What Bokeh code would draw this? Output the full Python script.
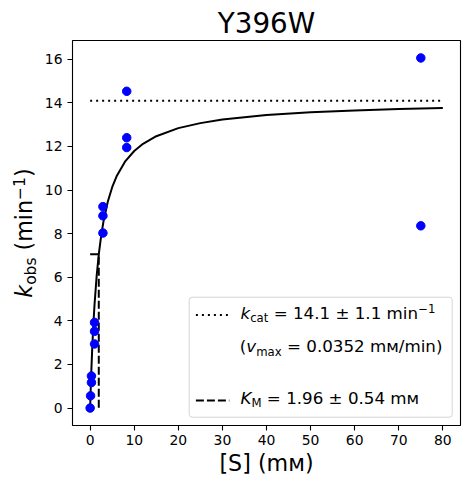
import math
from bokeh.plotting import figure
from bokeh.layouts import row
from bokeh.models import Range1d, FixedTicker, Label, BoxAnnotation
from bokeh.embed import file_html
from bokeh.resources import INLINE

# ---------------- data ----------------
title_text = "Y396W"
x_label_text = "[S] (m\u1d0d)"

s_conc = [0.0, 0.1, 0.3, 0.3, 1.0, 1.0, 1.0, 2.9, 2.9, 2.9, 8.3, 8.3, 8.3, 75.0, 75.0]
k_obs = [0.0, 0.56, 1.17, 1.47, 2.94, 3.52, 3.93, 8.03, 8.82, 9.24, 11.95, 12.40, 14.53, 16.06, 8.36]

fit_s = [0, 0.1, 0.25, 0.5, 0.75, 1.0, 1.5, 2.0, 2.5, 3.0, 4.0, 5.0, 6.0, 8.0,
         10.0, 12.0, 15.0, 20.0, 25.0, 30.0, 40.0, 50.0, 60.0, 70.0, 80.0]
fit_k = [0.0, 0.68, 1.60, 2.87, 3.90, 4.76, 6.11, 7.12, 7.90, 8.53, 9.46, 10.13, 10.63, 11.33,
         11.79, 12.12, 12.47, 12.84, 13.07, 13.24, 13.44, 13.57, 13.65, 13.72, 13.76]

kcat = 14.1
kcat_err = 1.1
vmax = 0.0352
km = 1.96
km_err = 0.54
s_span = [0.0, 80.0]

x_ticks = [0, 10, 20, 30, 40, 50, 60, 70, 80]
y_ticks = [0, 2, 4, 6, 8, 10, 12, 14, 16]

# ---------------- layout ----------------
X0, X1 = -4.0, 84.0
Y0, Y1 = -0.80, 16.86
FONT = "DejaVu Sans"
PAGE_W, PAGE_H = 469, 484
LAB_W = 40
XL, XR, YT, YB = 72, 460, 40, 425   # frame position in page pixels
BASE_OFF = 0.47                      # anchor-to-baseline offset of Label text (em)

p = figure(width=PAGE_W - LAB_W, height=PAGE_H, x_range=Range1d(X0, X1),
           y_range=Range1d(Y0, Y1), output_backend="svg", toolbar_location=None,
           min_border_left=XL - LAB_W, min_border_right=PAGE_W - XR,
           min_border_top=YT, min_border_bottom=PAGE_H - YB)
p.background_fill_color = "white"
p.border_fill_color = "white"
p.outline_line_color = "black"
p.outline_line_width = 1.1
p.grid.visible = False

p.title.text = title_text
p.title.text_font = FONT
p.title.text_font_size = "27.8px"
p.title.text_font_style = "normal"
p.title.text_color = "black"
p.title.align = "center"
p.title.standoff = 2

for ax, ticks in ((p.xaxis, x_ticks), (p.yaxis, y_ticks)):
    ax.ticker = FixedTicker(ticks=ticks)
    ax.axis_line_color = None
    ax.minor_tick_line_color = None
    ax.major_tick_in = 0
    ax.major_tick_out = 5
    ax.major_tick_line_color = "black"
    ax.major_tick_line_width = 1.1
    ax.major_label_text_font = FONT
    ax.major_label_text_font_size = "13.9px"
    ax.major_label_text_color = "black"
p.xaxis.major_label_standoff = 4
p.yaxis.major_label_standoff = 5
p.xaxis.axis_label = x_label_text
p.xaxis.axis_label_text_font = FONT
p.xaxis.axis_label_text_font_size = "22.2px"
p.xaxis.axis_label_text_font_style = "normal"
p.xaxis.axis_label_text_color = "black"
p.xaxis.axis_label_standoff = 2

# helper figure (left of the plot) carrying the composed y-axis title;
# in a row its frame is aligned with the main frame (page y 40..425, x 0..40)
q = figure(width=LAB_W, height=PAGE_H, title=None, x_range=Range1d(0, 1), y_range=Range1d(0, 1),
           output_backend="svg", toolbar_location=None, x_axis_type=None, y_axis_type=None,
           min_border=0, min_border_left=0, min_border_right=0, min_border_top=0,
           min_border_bottom=0)
q.outline_line_color = None
q.grid.visible = False
q.background_fill_color = "white"
q.border_fill_color = "white"


def to_data(X, Y):
    return (X0 + (X - XL) / (XR - XL) * (X1 - X0),
            Y1 - (Y - YT) / (YB - YT) * (Y1 - Y0)), "data"


def to_screen_q(X, Y):
    return (X, YB - Y), "screen"


W = {' ': .318, '(': .390, ')': .390, '[': .390, ']': .390, '=': .838, '\u00b1': .838,
     '\u2212': .838, '.': .318, '/': .337, 'a': .613, 'b': .635, 'c': .550, 'i': .278,
     'k': .580, 'm': .974, 'n': .634, 'o': .612, 's': .521, 't': .392, 'v': .592,
     'x': .592, 'K': .656, 'M': .863, 'S': .635, '\u1d0d': .74}
for d in "0123456789":
    W[d] = .636


def rich(fig, conv, pieces, X, Y, vertical=False):
    pos = 0.0
    for text, size, italic, shift in pieces:
        while text.startswith(" "):
            pos += W[" "] * size
            text = text[1:]
        w = sum(W.get(c, .6) for c in text) * size
        off = shift - BASE_OFF * size
        if vertical:
            px, py = X + off, Y - pos
        else:
            px, py = X + pos, Y + off
        (x, y), units = conv(px, py)
        fig.add_layout(Label(x=x, y=y, x_units=units, y_units=units, text=text,
                             text_font=FONT, text_font_size=f"{size}px",
                             text_font_style="italic" if italic else "normal",
                             text_baseline="alphabetic", text_align="left",
                             angle=math.pi / 2 if vertical else 0, text_color="black"))
        pos += w


# ---------------- marks ----------------
p.line([s_span[0], s_span[1]], [kcat, kcat], line_color="black", line_width=2, line_dash="2 4")
p.line([s_span[0], km, km], [kcat / 2, kcat / 2, 0], line_color="black", line_width=2,
       line_dash="8 3")
p.line(fit_s, fit_k, line_color="black", line_width=2)
p.scatter(s_conc, k_obs, size=8.5, fill_color="blue", line_color="blue")

# ---------------- legend ----------------
(bl, bt), _ = to_data(188.7, 296.7)
(br, bb), _ = to_data(451.7, 416.7)
p.add_layout(BoxAnnotation(left=bl, right=br, top=bt, bottom=bb, fill_color="white",
                           fill_alpha=0.8, line_color="#cccccc", line_alpha=0.8,
                           line_width=1, border_radius=3, level="underlay"))

(hx0, hy1), _ = to_data(195.4, 314.5)
(hx1, hy4), _ = to_data(228.8, 400.0)
p.line([hx0, hx1], [hy1, hy1], line_color="black", line_width=2, line_dash="2 4")
p.line([hx0, hx1], [hy4, hy4], line_color="black", line_width=2, line_dash="8 3")

LF = 16.7
SF = 11.7
sub = 0.2 * LF
sup = -0.36 * LF
rich(p, to_data, [("k", LF, True, 0), ("cat", SF, False, sub),
                  (f" = {kcat:.1f} \u00b1 {kcat_err:.1f} min", LF, False, 0),
                  ("\u22121", SF, False, sup)], 240.0, 320.0)
rich(p, to_data, [("(", LF, False, 0), ("v", LF, True, 0), ("max", SF, False, sub),
                  (f" = {vmax:.4f} m\u1d0d/min)", LF, False, 0)], 239.3, 353.3)
rich(p, to_data, [("K", LF, True, 0), ("M", SF, False, sub),
                  (f" = {km:.2f} \u00b1 {km_err:.2f} m\u1d0d", LF, False, 0)], 240.0, 405.0)

YF = 22.2
YS = 15.5
rich(q, to_screen_q, [("k", YF, True, 0), ("obs", YS, False, 0.2 * YF), (" (min", YF, False, 0),
                      ("\u22121", YS, False, -0.36 * YF), (")", YF, False, 0)],
     33.5, 297.25, vertical=True)

layout = row(q, p, spacing=0)
open("out.html", "w").write(file_html(layout, INLINE))
